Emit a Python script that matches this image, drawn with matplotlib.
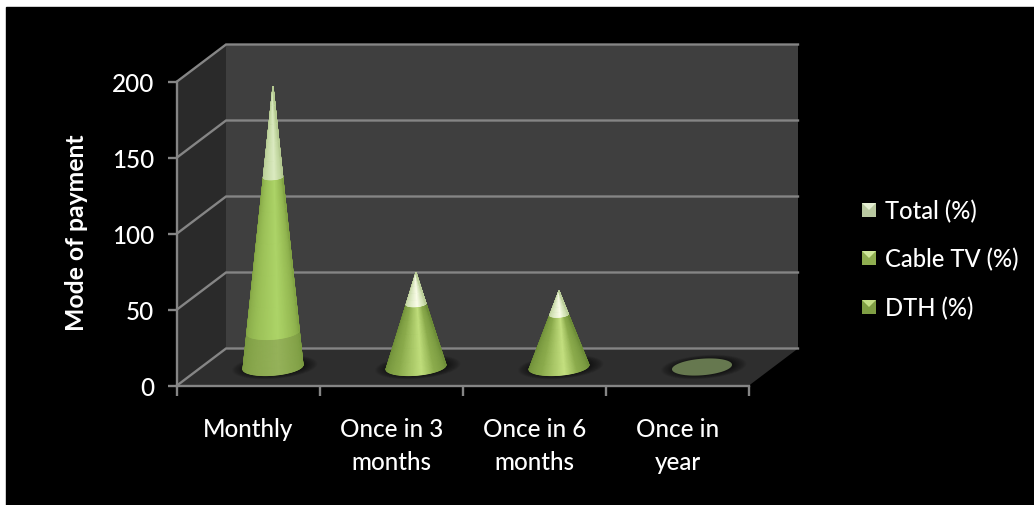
import numpy as np

import matplotlib
matplotlib.use('Agg')
import matplotlib.pyplot as plt
import matplotlib.patches as patches
from matplotlib.colors import LinearSegmentedColormap

plt.rcParams['font.family'] = ['Lato', 'DejaVu Sans']

categories = ['Monthly', 'Once in 3\nmonths', 'Once in 6\nmonths', 'Once in\nyear']
dth = [23, 0, 0, 0]
cable = [102, 41.5, 34.5, 0]
total = [59.5, 20.5, 15.5, 0]
y_ticks = [0, 50, 100, 150, 200]
legend_labels = ['Total (%)', 'Cable TV (%)', 'DTH (%)']

# (edge, body, highlight) shades of each stack section, bottom to top, per cone
shades = [
    [('#7a9a40', '#8aa84e', '#95b25a'), ('#82a444', '#9cc158', '#adD468'), ('#b5ca92', '#c8dca8', '#dcebc2')],
    [('#6e8e38', '#8bab4c', '#c0de7c'), ('#6e8e38', '#8bab4c', '#c0de7c'), ('#bccf9a', '#dce9c2', '#fbfdea')],
    [('#6e8e38', '#8bab4c', '#c4e080'), ('#6e8e38', '#8bab4c', '#c4e080'), ('#bccf9a', '#dce9c2', '#fbfdea')],
    [('#66784f', '#66784f', '#66784f')] * 3,
]

W, H = 1034, 506
fig = plt.figure(figsize=(W / 100, H / 100), dpi=100, facecolor='white')
fig.add_artist(patches.Rectangle((6 / W, 0), 1, 1 - 8 / H, color='black',
                                 transform=fig.transFigure, zorder=-1))

# the axes is the front plane of the 3d box
ax = fig.add_axes([177 / W, 1 - 386.5 / H, 572 / W, 304 / H])
ax.set_xlim(0, 4)
ax.set_ylim(0, 200)
ax.patch.set_visible(False)
for s in ax.spines.values():
    s.set_visible(False)

# oblique offset of the back wall, in data units
dx = 49 / 143.
dy = 37 / 1.52
GRID = '#858585'


def box_poly(pts, color, z):
    ax.add_patch(patches.Polygon(pts, closed=True, facecolor=color, edgecolor='none',
                                 zorder=z, clip_on=False))


box_poly([(dx, dy), (4 + dx, dy), (4 + dx, 200 + dy), (dx, 200 + dy)], '#3f3f3f', 1)
box_poly([(0, 0), (dx, dy), (dx, 200 + dy), (0, 200)], '#2a2a2a', 1)
box_poly([(0, 0), (4, 0), (4 + dx, dy), (dx, dy)], '#2e2e2e', 1)

for v in y_ticks:
    ax.plot([0, dx, 4 + dx], [v, v + dy, v + dy], color=GRID, lw=1.7, zorder=2,
            clip_on=False, solid_joinstyle='miter')
ax.plot([0, 0], [0, 200], color=GRID, lw=1.7, zorder=3, clip_on=False)
ax.plot([0, 4], [0, 0], color=GRID, lw=1.7, zorder=3, clip_on=False)

ax.set_xticks(range(5))
ax.set_yticks(y_ticks)
ax.set_xticklabels([])
ax.tick_params(axis='x', length=7.5, width=1.7, color=GRID, direction='out')
ax.tick_params(axis='y', length=6.5, width=1.7, color=GRID, direction='out',
               labelcolor='white', labelsize=17.5, pad=10)
for lab in ax.get_yticklabels():
    lab.set_fontweight('medium')

for i, c in enumerate(categories):
    ax.text(i + 0.5, -20.5, c, color='white', fontsize=17.4, ha='center', va='top',
            linespacing=1.52, clip_on=False, fontweight='medium')

fig.text(77 / W, 1 - 233 / H, 'Mode of payment', color='white', fontsize=17.8,
         fontweight='bold', rotation=90, ha='center', va='center')

# cones stand half way into the box
R = 0.21
TILT = 7.
MINOR = 26.


def rim(cx, cy, r, t):
    return cx + r * np.cos(t), cy + r * (TILT * np.cos(t) + MINOR * np.sin(t))


cone_x = [i + 0.5 + dx / 2 for i in range(len(categories))]
cone_y = dy / 2

for i, cx in enumerate(cone_x):
    # soft shadow on the floor
    for k in np.linspace(1.42, 1.0, 12):
        x, y = rim(cx + 0.012, cone_y, R * k, np.linspace(0, 2 * np.pi, 80))
        ax.fill(x, y, color='black', alpha=0.05, lw=0, zorder=4)

    heights = [dth[i], cable[i], total[i]]
    full = sum(heights)
    if full == 0:
        x, y = rim(cx, cone_y, R, np.linspace(0, 2 * np.pi, 80))
        ax.fill(x, y, color=shades[i][0][0], lw=0, zorder=5)
        continue

    # each section is a mesh over (angle round the cone, height), shaded by angle
    t = np.linspace(np.pi, 2 * np.pi, 90)
    base = 0.
    for j, h in enumerate(heights):
        if h == 0:
            continue
        top = base + h
        X, Y = [], []
        for level in np.linspace(base, top, 6):
            x, y = rim(cx, cone_y + level, R * (1 - level / full), t)
            X.append(x)
            Y.append(y)
        C = np.tile((t - np.pi) / np.pi, (6, 1))

        edge, body, mid = shades[i][j]
        cmap = LinearSegmentedColormap.from_list(
            'cone', [(0, edge), (0.3, body), (0.56, mid), (0.72, body), (1, edge)])
        ax.pcolormesh(np.array(X), np.array(Y), C, cmap=cmap, vmin=0, vmax=1,
                      shading='gouraud', zorder=5 + j)
        base = top

ax.set_xlim(0, 4)
ax.set_ylim(0, 200)

# legend keys are small bevelled squares
key_colors = [('#b9c8a0', '#e4eed2'), ('#8fae50', '#d0e89a'), ('#7f9e44', '#c4de86')]
for lab, (body, bevel), py in zip(legend_labels, key_colors, [211, 259, 308]):
    k = 7
    px = 869
    fig.add_artist(patches.Rectangle(((px - k) / W, 1 - (py + k) / H), 2 * k / W, 2 * k / H,
                                     color=body, lw=0, transform=fig.transFigure))
    fig.add_artist(patches.Polygon([((px - k) / W, 1 - (py - k) / H),
                                    ((px + k) / W, 1 - (py - k) / H),
                                    (px / W, 1 - py / H)],
                                   color=bevel, lw=0, transform=fig.transFigure))
    fig.text(885 / W, 1 - (py + 0.8) / H, lab, color='white', fontsize=17.1, va='center',
             ha='left', fontweight='medium')

fig.savefig('out.png', dpi=100, facecolor=fig.get_facecolor())
